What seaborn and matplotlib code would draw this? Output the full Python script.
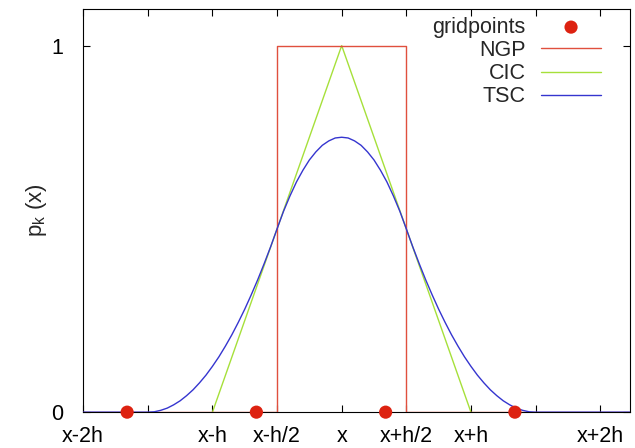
import matplotlib
matplotlib.use("Agg")
import matplotlib.pyplot as plt
import seaborn as sns
import pandas as pd

# grid positions (in units of h, relative to x)
grid_x = [-1.66, -0.66, 0.34, 1.34]
grid_y = [0, 0, 0, 0]

# NGP: top-hat of width h
ngp_x = [-2.0, -0.5, -0.5, 0.5, 0.5, 2.23]
ngp_y = [0, 0, 1, 1, 0, 0]

# CIC: triangle of half-width h
cic_x = [-1.0, 0.0, 1.0]
cic_y = [0, 1, 0]

# TSC: smooth bell
tsc_x = [-2.0, -1.5, -1.45, -1.4, -1.35, -1.3, -1.25, -1.2, -1.15, -1.1, -1.05,
         -1.0, -0.95, -0.9, -0.85, -0.8, -0.75, -0.7, -0.65, -0.6, -0.55,
         -0.5, -0.45, -0.4, -0.35, -0.3, -0.25, -0.2, -0.15, -0.1, -0.05,
         0.0, 0.05, 0.1, 0.15, 0.2, 0.25, 0.3, 0.35, 0.4, 0.45,
         0.5, 0.55, 0.6, 0.65, 0.7, 0.75, 0.8, 0.85, 0.9, 0.95,
         1.0, 1.05, 1.1, 1.15, 1.2, 1.25, 1.3, 1.35, 1.4, 1.45, 1.5, 2.23]
tsc_y = [0, 0, 0.001, 0.005, 0.011, 0.02, 0.031, 0.045, 0.061, 0.08, 0.101,
         0.125, 0.151, 0.18, 0.211, 0.245, 0.281, 0.32, 0.361, 0.405, 0.451,
         0.5, 0.548, 0.59, 0.628, 0.66, 0.688, 0.71, 0.728, 0.74, 0.748,
         0.75, 0.748, 0.74, 0.728, 0.71, 0.688, 0.66, 0.628, 0.59, 0.548,
         0.5, 0.451, 0.405, 0.361, 0.32, 0.281, 0.245, 0.211, 0.18, 0.151,
         0.125, 0.101, 0.08, 0.061, 0.045, 0.031, 0.02, 0.011, 0.005, 0.001, 0, 0]

xtick_pos = [-2, -1.5, -1, -0.5, 0, 0.5, 1, 1.5, 2]
xtick_labels = ["x-2h", "", "x-h", "x-h/2", "x", "x+h/2", "x+h", "", "x+2h"]

sns.set_theme(style="ticks")
plt.rcParams["font.family"] = ["Liberation Sans", "DejaVu Sans"]
plt.rcParams["mathtext.fontset"] = "custom"
plt.rcParams["mathtext.rm"] = "Liberation Sans"
plt.rcParams["mathtext.it"] = "Liberation Sans"

fig = plt.figure(figsize=(6.35, 4.48), dpi=100)
ax = fig.add_axes([0.131, 0.080, 0.861, 0.900])

ngp = pd.DataFrame({"x": ngp_x, "y": ngp_y})
cic = pd.DataFrame({"x": cic_x, "y": cic_y})
tsc = pd.DataFrame({"x": tsc_x, "y": tsc_y})
pts = pd.DataFrame({"x": grid_x, "y": grid_y})

sns.lineplot(data=cic, x="x", y="y", ax=ax, sort=False, estimator=None,
             color="#a6e03a", lw=1.0, label="CIC", zorder=2)
sns.lineplot(data=ngp, x="x", y="y", ax=ax, sort=False, estimator=None,
             color="#e0503e", lw=1.0, label="NGP", zorder=3)
sns.lineplot(data=tsc, x="x", y="y", ax=ax, sort=False, estimator=None,
             color="#3535cf", lw=1.0, label="TSC", zorder=4)
sns.scatterplot(data=pts, x="x", y="y", ax=ax, color="#dd2211", s=90,
                edgecolor="none", label="gridpoints", zorder=5, clip_on=False)

ax.set_xlim(-2.0, 2.23)
ax.set_ylim(0, 1.1)
ax.set_xticks(xtick_pos)
ax.set_xticklabels(xtick_labels)
ax.set_yticks([0, 1])
ax.set_yticklabels(["0", "1"])
ax.tick_params(axis="both", direction="in", length=5, width=0.8,
               top=True, right=True, labelsize=15.5, colors="black")
ax.tick_params(axis="x", pad=10)
ax.tick_params(axis="y", pad=14)
for s in ax.spines.values():
    s.set_linewidth(0.8)
    s.set_color("black")

ax.set_xlabel("")
ax.set_ylabel(r"p$_\mathregular{k}$ (x)", fontsize=16, labelpad=2)

handles, labels = ax.get_legend_handles_labels()
order = [labels.index(n) for n in ["gridpoints", "NGP", "CIC", "TSC"]]
ax.legend([handles[i] for i in order], [labels[i] for i in order],
          loc="upper right", frameon=False, markerfirst=False,
          fontsize=15.5, handlelength=2.8, labelspacing=0.1,
          handletextpad=0.7, borderaxespad=0.3, bbox_to_anchor=(0.975, 1.018))

plt.savefig("out.png", dpi=100)
